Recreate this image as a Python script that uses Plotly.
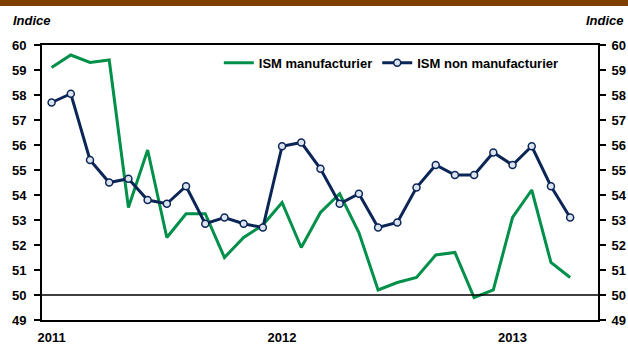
import plotly.graph_objects as go

months = list(range(28))  # Jan 2011 .. Apr 2013
ism_manuf = [59.1, 59.6, 59.3, 59.4, 53.5, 55.8, 52.3, 53.25, 53.25, 51.5, 52.3, 52.8,
             53.7, 51.9, 53.3, 54.05, 52.5, 50.2, 50.5, 50.7, 51.6, 51.7, 49.9, 50.2,
             53.1, 54.2, 51.3, 50.7]
ism_nonmanuf = [57.7, 58.05, 55.4, 54.5, 54.65, 53.8, 53.65, 54.35, 52.85, 53.1, 52.85, 52.7,
                55.95, 56.1, 55.05, 53.65, 54.05, 52.7, 52.9, 54.3, 55.2, 54.8, 54.8, 55.7,
                55.2, 55.95, 54.35, 53.1]
year_ticks = [0, 12, 24]
year_labels = ["2011", "2012", "2013"]
y_ticks = list(range(49, 61))

GREEN = "#00904A"
NAVY = "#0B2656"
FONT = "Liberation Sans, Arial, sans-serif"

fig = go.Figure()
fig.add_trace(go.Scatter(x=months, y=ism_manuf, mode="lines", name="ISM manufacturier",
                         line=dict(color=GREEN, width=3), yaxis="y"))
fig.add_trace(go.Scatter(x=months, y=ism_nonmanuf, mode="lines+markers", name="ISM non manufacturier",
                         line=dict(color=NAVY, width=3),
                         marker=dict(symbol="circle", size=7, color="#DCE4F0",
                                     line=dict(color=NAVY, width=1.5)),
                         yaxis="y2"))

tick_font = dict(family=FONT, size=13, color="#000000", weight="bold")

fig.update_layout(
    width=628, height=345,
    margin=dict(l=42, r=30, t=45, b=25, autoexpand=False),
    paper_bgcolor="white", plot_bgcolor="white",
    font=dict(family=FONT, size=12, color="#000"),
    showlegend=True,
    legend=dict(orientation="h", x=0.318, y=0.935, xanchor="left", yanchor="middle",
                bgcolor="rgba(0,0,0,0)", font=dict(family=FONT, size=13, color="#000",
                                                    weight="bold"),
                itemwidth=30, tracegroupgap=0),
    xaxis=dict(range=[-0.5, 28.45], tickvals=year_ticks, ticktext=year_labels,
               ticks="", showgrid=False, zeroline=False, showline=True,
               linecolor="#000", linewidth=1.5, mirror=True, automargin=False,
               tickfont=tick_font, ticklabelstandoff=5),
    yaxis=dict(range=[49, 60], tickvals=y_ticks, ticks="outside", ticklen=6,
               tickcolor="#000", tickwidth=1.5, showgrid=False, zeroline=False,
               showline=True, linecolor="#000", linewidth=2, automargin=False,
               tickfont=tick_font, ticklabelstandoff=5),
    yaxis2=dict(range=[49, 60], tickvals=y_ticks, ticks="outside", ticklen=6,
                tickcolor="#000", tickwidth=1.5, showgrid=False, zeroline=False,
                showline=True, linecolor="#000", linewidth=2, overlaying="y", side="right",
                automargin=False, tickfont=tick_font, ticklabelstandoff=3),
    shapes=[
        dict(type="line", xref="paper", yref="y", x0=0, x1=1, y0=50, y1=50,
             line=dict(color="#000", width=1.5)),
        dict(type="rect", xref="paper", yref="paper", x0=-0.1, x1=1.1,
             y0=1.142, y1=1.17, fillcolor="#7F3F00", line=dict(width=0)),
    ],
    annotations=[
        dict(text="<b><i>Indice</i></b>", xref="paper", yref="paper", x=-0.055, y=1.09,
             xanchor="left", yanchor="middle", showarrow=False,
             font=dict(family=FONT, size=13, color="#000")),
        dict(text="<b><i>Indice</i></b>", xref="paper", yref="paper", x=1.05, y=1.09,
             xanchor="right", yanchor="middle", showarrow=False,
             font=dict(family=FONT, size=13, color="#000")),
    ],
)

fig.write_html("out.html")
